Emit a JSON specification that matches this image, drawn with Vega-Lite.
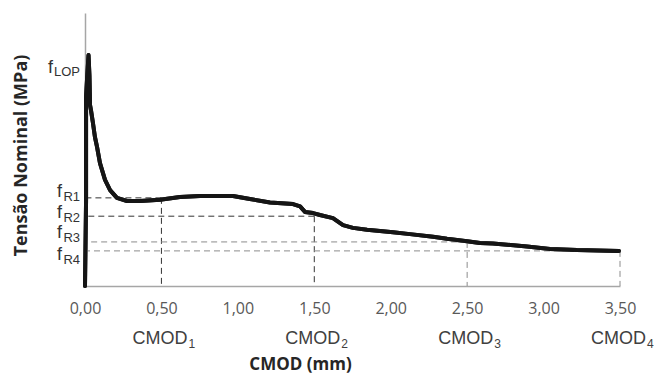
{
  "$schema": "https://vega.github.io/schema/vega-lite/v6.json",
  "width": 535,
  "height": 273,
  "autosize": {"type": "none"},
  "padding": {"left": 85, "top": 13, "right": 34, "bottom": 88},
  "config": {"view": {"stroke": null}, "axis": {"grid": false}},
  "datasets": {
    "curve": [
      {"cmod": 0.0, "t": 0.0},
      {"cmod": 0.007, "t": 2.21},
      {"cmod": 0.007, "t": 4.85},
      {"cmod": 0.013, "t": 5.28},
      {"cmod": 0.023, "t": 5.92},
      {"cmod": 0.029, "t": 5.41},
      {"cmod": 0.033, "t": 4.64},
      {"cmod": 0.039, "t": 4.51},
      {"cmod": 0.052, "t": 4.18},
      {"cmod": 0.065, "t": 3.82},
      {"cmod": 0.079, "t": 3.56},
      {"cmod": 0.098, "t": 3.15},
      {"cmod": 0.131, "t": 2.72},
      {"cmod": 0.164, "t": 2.46},
      {"cmod": 0.209, "t": 2.26},
      {"cmod": 0.275, "t": 2.18},
      {"cmod": 0.36, "t": 2.18},
      {"cmod": 0.491, "t": 2.21},
      {"cmod": 0.621, "t": 2.28},
      {"cmod": 0.752, "t": 2.31},
      {"cmod": 0.968, "t": 2.31},
      {"cmod": 1.079, "t": 2.23},
      {"cmod": 1.21, "t": 2.14},
      {"cmod": 1.361, "t": 2.1},
      {"cmod": 1.407, "t": 2.04},
      {"cmod": 1.439, "t": 1.9},
      {"cmod": 1.492, "t": 1.87},
      {"cmod": 1.537, "t": 1.82},
      {"cmod": 1.622, "t": 1.74},
      {"cmod": 1.688, "t": 1.56},
      {"cmod": 1.753, "t": 1.49},
      {"cmod": 1.845, "t": 1.44},
      {"cmod": 2.015, "t": 1.38},
      {"cmod": 2.126, "t": 1.33},
      {"cmod": 2.277, "t": 1.26},
      {"cmod": 2.368, "t": 1.21},
      {"cmod": 2.499, "t": 1.15},
      {"cmod": 2.584, "t": 1.1},
      {"cmod": 2.669, "t": 1.09},
      {"cmod": 2.892, "t": 1.01},
      {"cmod": 3.042, "t": 0.95},
      {"cmod": 3.219, "t": 0.92},
      {"cmod": 3.493, "t": 0.9}
    ],
    "levels": [
      {"j": 1, "cmod": 0.5, "f": 2.26, "sub": "R1", "ly": 2.28},
      {"j": 2, "cmod": 1.5, "f": 1.79, "sub": "R2", "ly": 1.74},
      {"j": 3, "cmod": 2.5, "f": 1.13, "sub": "R3", "ly": 1.22},
      {"j": 4, "cmod": 3.5, "f": 0.9, "sub": "R4", "ly": 0.66}
    ],
    "lop": [
      {"sub": "LOP", "ly": 5.46}
    ]
  },
  "layer": [
    {
      "data": {"name": "curve"},
      "mark": {"type": "line", "color": "#151515", "strokeWidth": 4, "strokeJoin": "round", "strokeCap": "round"},
      "encoding": {
        "x": {
          "field": "cmod", "type": "quantitative",
          "scale": {"domain": [0, 3.5]},
          "axis": {
            "values": [0, 0.5, 1, 1.5, 2, 2.5, 3, 3.5],
            "labelExpr": "replace(format(datum.value, '.2f'), '.', ',')",
            "labelFlush": false,
            "labelOverlap": false,
            "ticks": false,
            "domainColor": "#a6a6a6", "domainWidth": 1.5,
            "labelFont": "Open Sans", "labelFontSize": 16, "labelColor": "#595959",
            "labelPadding": 14,
            "title": "CMOD (mm)",
            "titleFont": "Open Sans", "titleFontSize": 17, "titleFontWeight": "bold", "titleColor": "#262626",
            "titleX": 215, "titleY": 83, "titleAlign": "center", "titleBaseline": "alphabetic"
          }
        },
        "y": {
          "field": "t", "type": "quantitative",
          "scale": {"domain": [0, 7]},
          "axis": {
            "labels": false, "ticks": false,
            "domainColor": "#a6a6a6", "domainWidth": 1.5,
            "title": "Tensão Nominal (MPa)",
            "titleFont": "Open Sans", "titleFontSize": 18, "titleFontWeight": "bold", "titleColor": "#262626",
            "titleAngle": -90, "titleX": -64, "titleY": 142, "titleAlign": "center", "titleBaseline": "middle"
          }
        }
      }
    },
    {
      "data": {"name": "levels"},
      "transform": [{"filter": "datum.j <= 2"}],
      "mark": {"type": "rule", "color": "#333333", "strokeWidth": 1, "strokeDash": [6, 4]},
      "encoding": {
        "x": {"field": "cmod", "type": "quantitative"},
        "x2": {"datum": 0},
        "y": {"field": "f", "type": "quantitative"}
      }
    },
    {
      "data": {"name": "levels"},
      "transform": [{"filter": "datum.j <= 2"}],
      "mark": {"type": "rule", "color": "#333333", "strokeWidth": 1, "strokeDash": [6, 4]},
      "encoding": {
        "x": {"field": "cmod", "type": "quantitative"},
        "y": {"field": "f", "type": "quantitative"},
        "y2": {"datum": 0}
      }
    },
    {
      "data": {"name": "levels"},
      "transform": [{"filter": "datum.j > 2"}],
      "mark": {"type": "rule", "color": "#8c8c8c", "strokeWidth": 1, "strokeDash": [6, 4]},
      "encoding": {
        "x": {"field": "cmod", "type": "quantitative"},
        "x2": {"datum": 0},
        "y": {"field": "f", "type": "quantitative"}
      }
    },
    {
      "data": {"name": "levels"},
      "transform": [{"filter": "datum.j > 2"}],
      "mark": {"type": "rule", "color": "#8c8c8c", "strokeWidth": 1, "strokeDash": [6, 4]},
      "encoding": {
        "x": {"field": "cmod", "type": "quantitative"},
        "y": {"field": "f", "type": "quantitative"},
        "y2": {"datum": 0}
      }
    },
    {
      "data": {"name": "curve"},
      "mark": {"type": "line", "color": "#151515", "strokeWidth": 4, "strokeJoin": "round", "strokeCap": "round"},
      "encoding": {
        "x": {"field": "cmod", "type": "quantitative"},
        "y": {"field": "t", "type": "quantitative"}
      }
    },
    {
      "data": {"name": "lop"},
      "mark": {"type": "text", "text": "f", "font": "Liberation Sans", "fontSize": 18, "color": "#333333", "align": "right", "baseline": "alphabetic", "dx": -32},
      "encoding": {
        "x": {"datum": 0, "type": "quantitative"},
        "y": {"field": "ly", "type": "quantitative"}
      }
    },
    {
      "data": {"name": "levels"},
      "mark": {"type": "text", "text": "f", "font": "Liberation Sans", "fontSize": 18, "color": "#333333", "align": "right", "baseline": "alphabetic", "dx": -23},
      "encoding": {
        "x": {"datum": 0, "type": "quantitative"},
        "y": {"field": "ly", "type": "quantitative"}
      }
    },
    {
      "data": {"name": "lop"},
      "mark": {"type": "text", "font": "Liberation Sans", "fontSize": 13, "color": "#333333", "align": "right", "baseline": "alphabetic", "dx": -5, "dy": 3},
      "encoding": {
        "x": {"datum": 0, "type": "quantitative"},
        "y": {"field": "ly", "type": "quantitative"},
        "text": {"field": "sub"}
      }
    },
    {
      "data": {"name": "levels"},
      "mark": {"type": "text", "font": "Liberation Sans", "fontSize": 13, "color": "#333333", "align": "right", "baseline": "alphabetic", "dx": -5, "dy": 4},
      "encoding": {
        "x": {"datum": 0, "type": "quantitative"},
        "y": {"field": "ly", "type": "quantitative"},
        "text": {"field": "sub"}
      }
    },
    {
      "data": {"name": "levels"},
      "mark": {"type": "text", "text": "CMOD", "font": "Liberation Sans", "fontSize": 18, "color": "#404040", "align": "right", "baseline": "alphabetic", "dx": 26, "dy": 58},
      "encoding": {
        "x": {"field": "cmod", "type": "quantitative"},
        "y": {"datum": 0, "type": "quantitative"}
      }
    },
    {
      "data": {"name": "levels"},
      "mark": {"type": "text", "font": "Liberation Sans", "fontSize": 12, "color": "#404040", "align": "left", "baseline": "alphabetic", "dx": 27, "dy": 62},
      "encoding": {
        "x": {"field": "cmod", "type": "quantitative"},
        "y": {"datum": 0, "type": "quantitative"},
        "text": {"field": "j", "type": "nominal"}
      }
    }
  ]
}
